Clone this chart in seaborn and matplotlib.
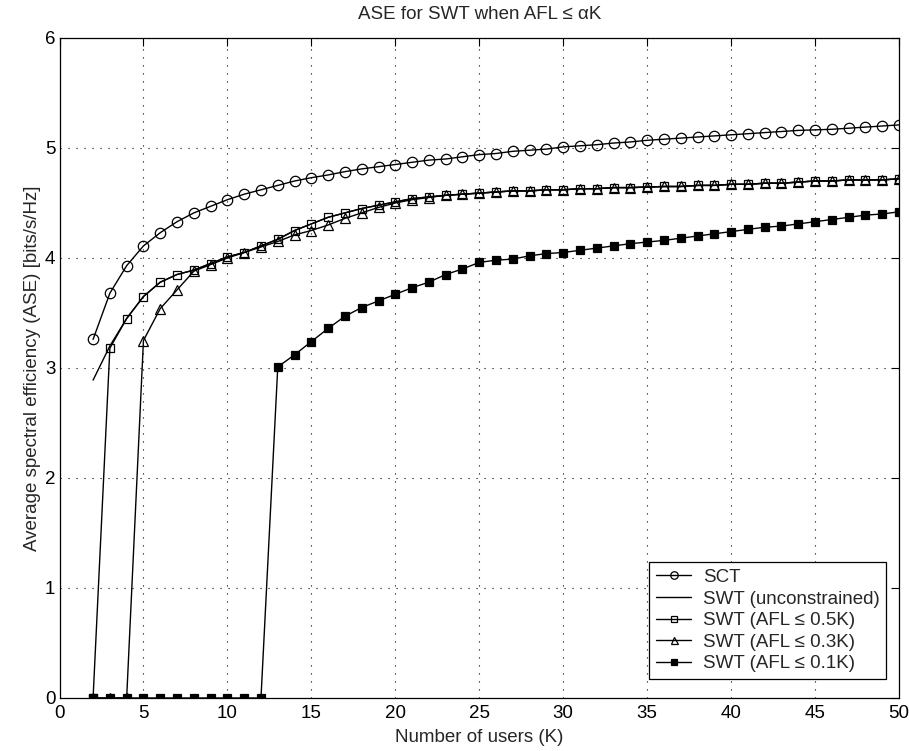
import numpy as np
import pandas as pd
import matplotlib
matplotlib.use("Agg")
import matplotlib.pyplot as plt
import seaborn as sns

K = list(range(2, 51))

sct = [3.26, 3.68, 3.93, 4.11, 4.23, 4.33, 4.41, 4.47, 4.53, 4.58,
       4.62, 4.66, 4.70, 4.73, 4.755, 4.785, 4.81, 4.83, 4.85, 4.87,
       4.89, 4.90, 4.92, 4.94, 4.95, 4.97, 4.98, 4.99, 5.01, 5.02,
       5.03, 5.045, 5.055, 5.07, 5.08, 5.09, 5.10, 5.11, 5.12, 5.13,
       5.14, 5.15, 5.16, 5.165, 5.17, 5.18, 5.19, 5.20, 5.21]

swt_unc = [2.89, 3.20, 3.45, 3.65, 3.78, 3.85, 3.89, 3.95, 4.01, 4.05,
           4.11, 4.17, 4.25, 4.31, 4.37, 4.41, 4.45, 4.48, 4.51, 4.54,
           4.555, 4.57, 4.58, 4.59, 4.60, 4.61, 4.61, 4.62, 4.62, 4.63,
           4.63, 4.64, 4.64, 4.645, 4.65, 4.65, 4.66, 4.66, 4.67, 4.67,
           4.68, 4.68, 4.69, 4.70, 4.70, 4.71, 4.71, 4.71, 4.72]

swt_05 = [0.0, 3.18, 3.45, 3.65, 3.78, 3.85, 3.89, 3.95, 4.01, 4.05,
          4.11, 4.17, 4.25, 4.31, 4.37, 4.41, 4.45, 4.48, 4.51, 4.54,
          4.555, 4.57, 4.58, 4.59, 4.60, 4.61, 4.61, 4.62, 4.62, 4.63,
          4.63, 4.64, 4.64, 4.645, 4.65, 4.65, 4.66, 4.66, 4.67, 4.67,
          4.68, 4.68, 4.69, 4.70, 4.70, 4.71, 4.71, 4.71, 4.72]

swt_03 = [0.0, 0.0, 0.0, 3.25, 3.54, 3.71, 3.88, 3.94, 4.00, 4.05,
          4.10, 4.15, 4.21, 4.25, 4.30, 4.36, 4.41, 4.46, 4.50, 4.53,
          4.55, 4.57, 4.58, 4.59, 4.60, 4.61, 4.61, 4.62, 4.62, 4.63,
          4.63, 4.64, 4.64, 4.645, 4.65, 4.65, 4.66, 4.66, 4.67, 4.67,
          4.68, 4.68, 4.69, 4.70, 4.70, 4.71, 4.71, 4.71, 4.72]

swt_01 = [0.0, 0.0, 0.0, 0.0, 0.0, 0.0, 0.0, 0.0, 0.0, 0.0,
          0.0, 3.01, 3.12, 3.24, 3.36, 3.47, 3.55, 3.61, 3.67, 3.73,
          3.78, 3.85, 3.90, 3.96, 3.98, 3.99, 4.02, 4.04, 4.05, 4.07,
          4.09, 4.11, 4.13, 4.145, 4.16, 4.18, 4.20, 4.22, 4.24, 4.26,
          4.28, 4.29, 4.31, 4.33, 4.35, 4.37, 4.39, 4.40, 4.42]

labels = ["SCT", "SWT (unconstrained)", "SWT (AFL \u2264 0.5K)",
          "SWT (AFL \u2264 0.3K)", "SWT (AFL \u2264 0.1K)"]
title = "ASE for SWT when AFL \u2264 \u03b1K"
xlabel = "Number of users (K)"
ylabel = "Average spectral efficiency (ASE) [bits/s/Hz]"
xticks = list(range(0, 51, 5))
yticks = list(range(0, 7))

sns.set_theme(style="white")
plt.rcParams['font.family'] = ['Liberation Sans', 'DejaVu Sans']

W, H = 909, 751
fig = plt.figure(figsize=(W / 100, H / 100), dpi=100)
ax = fig.add_axes([59.5 / W, 1 - 698 / H, (899 - 59.5) / W, (698 - 38) / H])

series = [sct, swt_unc, swt_05, swt_03, swt_01]
styles = [
    dict(marker="o", markersize=7.5, markerfacecolor="none"),
    dict(marker=None),
    dict(marker="s", markersize=5.8, markerfacecolor="none"),
    dict(marker="^", markersize=7.0, markerfacecolor="none"),
    dict(marker="s", markersize=5.8, markerfacecolor="black"),
]
for vals, lab, st in zip(series, labels, styles):
    df = pd.DataFrame({"K": K, "ASE": vals})
    sns.lineplot(data=df, x="K", y="ASE", ax=ax, color="black", linewidth=1.0,
                 markeredgecolor="black", markeredgewidth=0.9, label=lab, **st)

fs = 13.5
ax.set_xlim(0, 50)
ax.set_ylim(0, 6)
ax.set_xticks(xticks)
ax.set_yticks(yticks)
ax.grid(True, color="black", linestyle=(0, (1, 6.2)), linewidth=0.8)
ax.tick_params(axis="both", direction="in", top=True, right=True, length=6,
               width=0.8, labelsize=fs, colors="black", pad=3)
ax.tick_params(axis="x", pad=5)
for s in ax.spines.values():
    s.set_color("black")
    s.set_linewidth(0.9)
ax.set_title(title, fontsize=fs, pad=14)
ax.set_xlabel(xlabel, fontsize=fs, labelpad=5)
ax.set_ylabel(ylabel, fontsize=fs, labelpad=3)

leg = ax.legend(loc="lower right", bbox_to_anchor=(0.9845, 0.0288),
                fontsize=fs, frameon=True, fancybox=False,
                edgecolor="black", framealpha=1, borderaxespad=0,
                handlelength=1.9, labelspacing=0.24, markerscale=0.72,
                borderpad=0.35, handletextpad=0.6)
leg.get_frame().set_linewidth(0.9)

fig.savefig("out.png", dpi=100)
